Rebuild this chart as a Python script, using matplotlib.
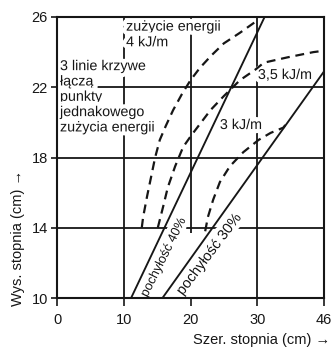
import matplotlib.pyplot as plt
import matplotlib.patheffects as pe

plt.rcParams['font.family'] = ['Liberation Sans', 'DejaVu Sans']

# straight lines of constant slope (pochyłość)
slope40_x = [11.1, 31.1]
slope40_y = [10.0, 26.0]
slope30_x = [15.8, 40.0]
slope30_y = [10.0, 22.9]

# curves of equal energy use (kJ/m)
e4_x = [12.7, 12.9, 13.5, 14.1, 14.7, 15.4, 16.3, 17.4, 18.7, 20.0, 21.4, 23.1, 25.0, 27.4, 30.0]
e4_y = [14.0, 14.6, 15.8, 16.9, 18.0, 19.0, 19.8, 20.7, 21.6, 22.4, 23.1, 23.8, 24.5, 25.1, 25.8]

e35_x = [15.1, 15.9, 16.6, 17.7, 18.9, 20.2, 21.6, 23.0, 25.0, 27.4, 29.7, 31.0, 34.5, 38.4, 39.4]
e35_y = [14.0, 15.2, 16.3, 17.5, 18.6, 19.3, 20.0, 20.7, 21.5, 22.4, 23.0, 23.4, 23.7, 24.0, 24.05]

e3_x = [22.2, 22.6, 23.4, 24.4, 25.9, 27.9, 30.2, 32.0, 33.9, 34.2]
e3_y = [13.8, 14.6, 15.6, 16.6, 17.5, 18.3, 19.0, 19.4, 19.7, 19.85]

xticks = [0, 10, 20, 30, 40]
xticklabels = ['0', '10', '20', '30', '46']
yticks = [10, 14, 18, 22, 26]

ink = '#161616'
halo = [pe.withStroke(linewidth=6, foreground='white')]

fig = plt.figure(figsize=(3.31, 3.47), dpi=100)
ax = fig.add_axes([57/331, 1-298/347, 267/331, 281/347])
ax.set_xlim(0, 40)
ax.set_ylim(10, 26)

# grid
for gy in [14, 18, 22]:
    ax.axhline(gy, color=ink, lw=1.3, zorder=1)
ax.axvline(10, color=ink, lw=1.3, zorder=1)
ax.axvline(30, color=ink, lw=1.3, zorder=1)
ax.vlines(20, 13.7, 26, color=ink, lw=1.3, zorder=1)

ax.plot(slope40_x, slope40_y, color=ink, lw=1.35, zorder=4)
ax.plot(slope30_x, slope30_y, color=ink, lw=1.35, zorder=4)
for cx, cy in [(e4_x, e4_y), (e35_x, e35_y), (e3_x, e3_y)]:
    ax.plot(cx, cy, color=ink, lw=1.6, linestyle=(0, (4.0, 2.6)), zorder=4)

tk = dict(color=ink, fontsize=10.3, zorder=3, path_effects=halo)
ax.text(10.35, 25.85, 'zużycie energii\n4 kJ/m', ha='left', va='top', linespacing=1.15, **tk)
ax.text(0.45, 23.6, '3 linie krzywe\nłączą\npunkty\njednakowego\nzużycia energii',
        ha='left', va='top', linespacing=1.12, **tk)
ax.text(30.1, 22.7, '3,5 kJ/m', ha='left', va='center', **tk)
ax.text(24.4, 19.85, '3 kJ/m', ha='left', va='center', **tk)
ax.text(16.0, 12.3, 'pochyłość 40%', rotation=63.5, rotation_mode='anchor',
        ha='center', va='center', color=ink, fontsize=9.3, zorder=3, path_effects=halo)
ax.text(22.8, 12.5, 'pochyłość 30%', rotation=53, rotation_mode='anchor',
        ha='center', va='center', color=ink, fontsize=10.5, zorder=3, path_effects=halo)

ax.set_xticks(xticks)
ax.set_xticklabels(xticklabels)
ax.set_yticks(yticks)
ax.tick_params(axis='x', length=6, width=1.2, pad=5, labelsize=10.5, colors=ink)
ax.tick_params(axis='y', length=4, width=1.2, pad=2.5, labelsize=10.5, colors=ink)
for s in ax.spines.values():
    s.set_linewidth(1.5)
    s.set_color(ink)
    s.set_zorder(6)

fig.text(18/331, 1-238/347, 'Wys. stopnia (cm) →', rotation=90, ha='center', va='center',
         fontsize=10.5, color=ink)
fig.text(0.998, 1-340/347, 'Szer. stopnia (cm) →', ha='right', va='center',
         fontsize=10.5, color=ink)

fig.savefig('out.png', dpi=100, facecolor='white')
